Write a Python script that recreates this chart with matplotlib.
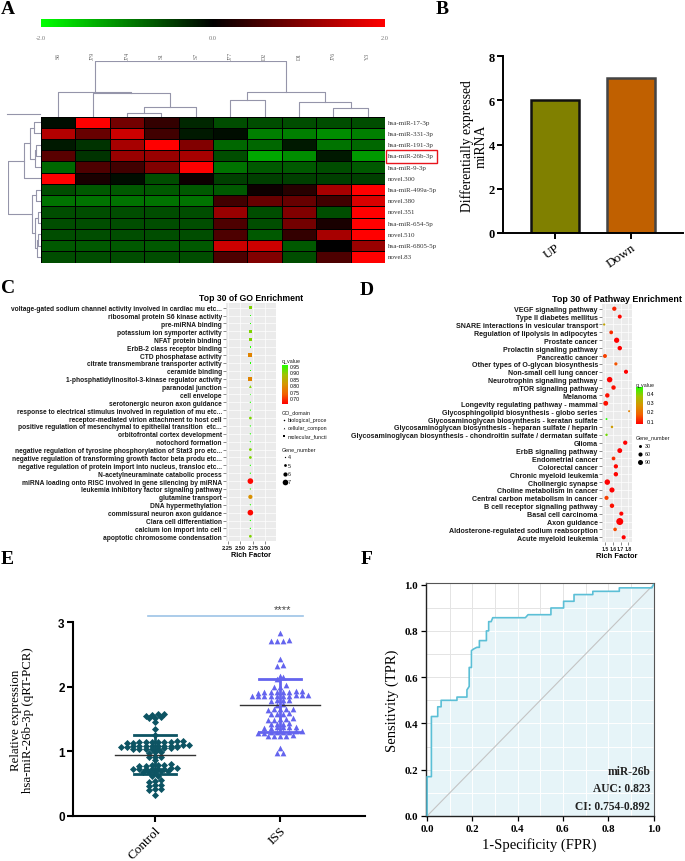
import numpy as np
import matplotlib
matplotlib.use("Agg")
import matplotlib.pyplot as plt
from matplotlib.colors import LinearSegmentedColormap, Normalize
from matplotlib.patches import Rectangle
from matplotlib.lines import Line2D

W, H = 685, 862
SERIF = "Liberation Serif"
SANS = "Liberation Sans"

# ---------------- A: heatmap ----------------
hm_cols = ["S6", "J79", "J74", "S1", "S7", "J77", "D2", "D1", "J76", "Y3"]
hm_rows = ["hsa-miR-17-3p", "hsa-miR-331-3p", "hsa-miR-191-3p", "hsa-miR-26b-3p",
           "hsa-miR-9-3p", "novel.300", "hsa-miR-499a-5p", "novel.380", "novel.351",
           "hsa-miR-654-5p", "novel.510", "hsa-miR-6805-5p", "novel.83"]
hm_vals = np.array([
    [-0.1, 2.0, 0.9, 0.4, -0.3, -0.6, -0.6, -0.6, -0.6, -0.6],
    [1.4, 0.8, 1.6, 0.5, -0.2, -0.1, -1.0, -1.0, -1.1, -1.0],
    [-0.2, -0.4, 1.3, 2.0, 1.0, -0.8, -0.8, -0.2, -0.9, -0.8],
    [0.7, -0.4, 1.2, 1.2, 1.3, -0.6, -1.3, -1.1, -0.2, -1.2],
    [-0.8, 0.6, 0.5, 1.0, 2.0, -0.9, -0.7, -0.7, -0.6, -0.7],
    [2.0, 0.2, -0.1, -0.6, 0.1, -0.5, -0.5, -0.5, -0.5, -0.5],
    [-0.6, -0.7, -0.7, -0.7, -0.7, -0.7, 0.1, 0.3, 1.3, 2.0],
    [-0.9, -0.9, -0.9, -0.9, -0.9, 0.5, 0.8, 0.8, 0.5, 1.7],
    [-0.6, -0.6, -0.6, -0.6, -0.6, 1.2, -0.6, 1.0, -0.6, 2.0],
    [-0.6, -0.6, -0.6, -0.6, -0.6, 0.6, -0.6, 0.9, 0.2, 2.0],
    [-0.6, -0.6, -0.6, -0.6, -0.6, 0.6, -0.7, 0.4, 1.3, 2.0],
    [-0.7, -0.7, -0.7, -0.7, -0.7, 1.6, 1.6, -0.7, 0.0, 1.2],
    [-0.6, -0.6, -0.6, -0.6, -0.6, 0.6, 1.0, -0.6, 0.6, 2.0],
])
# merges: (cluster a, cluster b, height)
col_merges = [(2, 3, 12), (10, 4, 30), (1, 11, 70), (0, 12, 75), (8, 9, 25),
              (7, 14, 43), (5, 6, 50), (16, 15, 73), (13, 17, 168)]
row_merges = [(0, 1, 22), (2, 3, 14), (14, 4, 18), (13, 15, 34), (16, 5, 52),
              (6, 7, 16), (8, 9, 10), (10, 11, 8), (20, 12, 12), (19, 21, 18),
              (18, 22, 26), (17, 23, 100)]

# ---------------- B ----------------
b_cats = ["UP", "Down"]
b_vals = [6, 7]

# ---------------- C: GO ----------------
go_terms = [
    "voltage-gated sodium channel activity involved in cardiac mu etc...",
    "ribosomal protein S6 kinase activity", "pre-miRNA binding",
    "potassium ion symporter activity", "NFAT protein binding",
    "ErbB-2 class receptor binding", "CTD phosphatase activity",
    "citrate transmembrane transporter activity", "ceramide binding",
    "1-phosphatidylinositol-3-kinase regulator activity", "paranodal junction",
    "cell envelope", "serotonergic neuron axon guidance",
    "response to electrical stimulus involved in regulation of mu etc...",
    "receptor-mediated virion attachment to host cell",
    "positive regulation of mesenchymal to epithelial transition  etc...",
    "orbitofrontal cortex development", "notochord formation",
    "negative regulation of tyrosine phosphorylation of Stat3 pro etc...",
    "negative regulation of transforming growth factor beta produ etc...",
    "negative regulation of protein import into nucleus, transloc etc...",
    "N-acetylneuraminate catabolic process",
    "miRNA loading onto RISC involved in gene silencing by miRNA",
    "leukemia inhibitory factor signaling pathway", "glutamine transport",
    "DNA hypermethylation", "commissural neuron axon guidance",
    "Clara cell differentiation", "calcium ion import into cell",
    "apoptotic chromosome condensation"]
go_rich = [2.7] * 30
go_q = [0.90, 0.955, 0.955, 0.90, 0.90, 0.955, 0.78, 0.955, 0.955, 0.78,
        0.90, 0.955, 0.955, 0.955, 0.90, 0.955, 0.955, 0.955, 0.90, 0.90,
        0.955, 0.955, 0.66, 0.955, 0.80, 0.955, 0.66, 0.955, 0.955, 0.90]
go_genes = [5, 4, 4, 5, 5, 4, 6, 4, 4, 6, 5, 4, 4, 4, 5, 4, 4, 4, 5, 5,
            4, 4, 7, 4, 6, 4, 7, 4, 4, 5]
go_domain = ["MF"] * 10 + ["CC"] * 2 + ["BP"] * 18

# ---------------- D: pathways ----------------
kegg_terms = [
    "VEGF signaling pathway", "Type II diabetes mellitus",
    "SNARE interactions in vesicular transport", "Regulation of lipolysis in adipocytes",
    "Prostate cancer", "Prolactin signaling pathway", "Pancreatic cancer",
    "Other types of O-glycan biosynthesis", "Non-small cell lung cancer",
    "Neurotrophin signaling pathway", "mTOR signaling pathway", "Melanoma",
    "Longevity regulating pathway - mammal",
    "Glycosphingolipid biosynthesis - globo series",
    "Glycosaminoglycan biosynthesis - keratan sulfate",
    "Glycosaminoglycan biosynthesis - heparan sulfate / heparin",
    "Glycosaminoglycan biosynthesis - chondroitin sulfate / dermatan sulfate",
    "Glioma", "ErbB signaling pathway", "Endometrial cancer", "Colorectal cancer",
    "Chronic myeloid leukemia", "Cholinergic synapse", "Choline metabolism in cancer",
    "Central carbon metabolism in cancer", "B cell receptor signaling pathway",
    "Basal cell carcinoma", "Axon guidance", "Aldosterone-regulated sodium reabsorption",
    "Acute myeloid leukemia"]
kegg_rich = [1.62, 1.69, 1.49, 1.58, 1.65, 1.69, 1.50, 1.64, 1.77, 1.56,
             1.61, 1.53, 1.51, 1.81, 1.52, 1.59, 1.52, 1.76, 1.69, 1.61,
             1.64, 1.64, 1.53, 1.59, 1.52, 1.59, 1.71, 1.69, 1.63, 1.74]
kegg_q = [0.10, 0.07, 0.30, 0.11, 0.05, 0.05, 0.13, 0.15, 0.05, 0.06,
          0.08, 0.08, 0.08, 0.22, 0.46, 0.28, 0.40, 0.05, 0.05, 0.11,
          0.07, 0.07, 0.05, 0.06, 0.13, 0.08, 0.07, 0.04, 0.14, 0.06]
kegg_genes = [65, 55, 15, 50, 100, 70, 55, 35, 60, 110, 70, 70, 85, 12, 10,
              20, 18, 65, 85, 50, 65, 70, 110, 95, 60, 70, 60, 180, 45, 60]

# ---------------- E ----------------
e_groups = ["Control", "ISS"]
ctrl_vals = [1.57, 1.57, 1.56, 1.55, 1.53, 1.52, 1.51, 1.46, 1.35, 1.25,
             1.16, 1.15, 1.15, 1.14, 1.14, 1.13, 1.15, 1.16, 1.14, 1.13,
             1.09, 1.08, 1.09, 1.08, 1.10, 1.07, 1.09, 1.08, 1.09, 1.07, 1.08,
             1.10, 1.06, 1.05,
             1.04, 1.03, 1.05, 1.04, 1.03, 1.04, 0.99, 0.98, 0.99,
             0.91, 0.92, 0.91, 0.86,
             0.79, 0.78, 0.80, 0.79, 0.78, 0.79,
             0.73, 0.72, 0.74, 0.73, 0.72, 0.73, 0.74, 0.72,
             0.68, 0.69, 0.68, 0.69, 0.68,
             0.62, 0.62, 0.54, 0.55, 0.53, 0.48, 0.47, 0.48,
             0.41, 0.40, 0.41, 0.32]
iss_vals = [2.83, 2.71, 2.72, 2.70, 2.71, 2.43, 2.34, 2.32, 2.17, 2.15, 2.12,
            2.02, 2.00, 1.99,
            1.93, 1.92, 1.91, 1.92, 1.93, 1.91, 1.92, 1.90,
            1.87, 1.86, 1.85, 1.86, 1.87, 1.86, 1.85, 1.86, 1.87, 1.86,
            1.79, 1.80, 1.78, 1.79, 1.72, 1.73,
            1.66, 1.65, 1.64, 1.66, 1.65, 1.58, 1.57, 1.59, 1.58,
            1.50, 1.49, 1.51, 1.50, 1.49, 1.43, 1.44, 1.42, 1.43,
            1.37, 1.36, 1.38, 1.37, 1.36, 1.37,
            1.30, 1.29, 1.31, 1.30, 1.29, 1.30, 1.31, 1.30,
            1.24, 1.23, 1.25, 1.24, 1.23, 1.05, 0.98, 0.97]

# ---------------- F: ROC ----------------
roc_fpr = [0, 0, 0.019, 0.019, 0.047, 0.047, 0.062, 0.062, 0.132, 0.132, 0.176,
           0.176, 0.186, 0.186, 0.196, 0.196, 0.206, 0.22, 0.231, 0.231, 0.262,
           0.262, 0.272, 0.272, 0.283, 0.29, 0.434, 0.446, 0.547, 0.547, 0.603,
           0.603, 0.649, 0.649, 0.732, 0.732, 0.849, 0.849, 0.993, 1.0]
roc_tpr = [0, 0.17, 0.17, 0.43, 0.43, 0.472, 0.472, 0.50, 0.50, 0.514, 0.514,
           0.545, 0.56, 0.642, 0.642, 0.715, 0.722, 0.729, 0.729, 0.758, 0.758,
           0.80, 0.80, 0.84, 0.84, 0.857, 0.857, 0.870, 0.870, 0.899, 0.899,
           0.928, 0.928, 0.957, 0.957, 0.971, 0.971, 0.986, 0.986, 1.0]


fig = plt.figure(figsize=(W / 100, H / 100), dpi=100)


def add_ax(l, t, r, b):
    return fig.add_axes([l / W, 1 - b / H, (r - l) / W, (b - t) / H])


def ftext(x, y, s, **kw):
    return fig.text(x / W, 1 - y / H, s, **kw)


def dendro_segments(merges, n):
    pos = {i: i + 0.5 for i in range(n)}
    hgt = {i: 0.0 for i in range(n)}
    segs = []
    for k, (a, b, h) in enumerate(merges):
        segs.append(([pos[a], pos[a], pos[b], pos[b]], [hgt[a], h, h, hgt[b]]))
        pos[n + k] = (pos[a] + pos[b]) / 2
        hgt[n + k] = h
    return segs


# panel letters
for lab, x, y in [("A", 1, 1), ("B", 436, 1), ("C", 1, 280), ("D", 360, 282),
                  ("E", 1, 551), ("F", 361, 551)]:
    ftext(x, y, lab, family=SERIF, weight="bold", fontsize=14, va="top", ha="left")

# ---------------- A ----------------
hm_cmap = LinearSegmentedColormap.from_list("gbr", ["#00ff00", "#000000", "#ff0000"])
ax = add_ax(41, 117.5, 385, 263.5)
mesh = ax.pcolormesh(hm_vals, cmap=hm_cmap, vmin=-2, vmax=2, edgecolors="black", linewidth=0.6)
ax.set_xlim(0, len(hm_cols))
ax.set_ylim(len(hm_rows), 0)
ax.axis("off")
for i, r in enumerate(hm_rows):
    ftext(388, 117.5 + (i + 0.5) * 146 / 13, r, family=SERIF, fontsize=5.0,
          va="center", ha="left", color="#333333")
for j, c in enumerate(hm_cols):
    ftext(41 + (j + 0.5) * 34.4, 56, c, family=SERIF, fontsize=4.2, rotation=90,
          va="center", ha="center", color="#666666")
fig.add_artist(Rectangle((386 / W, 1 - 163.5 / H), 51 / W, 12.5 / H,
                         transform=fig.transFigure, fill=False, ec="#e8141c", lw=1))

cax = add_ax(41, 20, 385, 28)
cb = fig.colorbar(mesh, cax=cax, orientation="horizontal", ticks=[-2, 0, 2])
cb.outline.set_visible(False)
cb.ax.set_xticklabels(["-2.0", "0.0", "2.0"])
cb.ax.tick_params(length=0, labelsize=4.6, pad=6, labelcolor="#777777")
for t in cb.ax.get_xticklabels():
    t.set_family(SERIF)

dcol = "#9595aa"
axd = add_ax(41, 61.5, 385, 117.5)
for xs, ys in dendro_segments(col_merges, len(hm_cols)):
    axd.plot(xs, ys, color=dcol, lw=0.8)
axd.set_xlim(0, len(hm_cols))
axd.set_ylim(0, 168)
axd.axis("off")

axr = add_ax(7.5, 117.5, 41, 263.5)
for ys, xs in dendro_segments(row_merges, len(hm_rows)):
    axr.plot(xs, ys, color=dcol, lw=0.8)
axr.set_xlim(100, 0)
axr.set_ylim(len(hm_rows), 0)
axr.axis("off")
fig.add_artist(Line2D([7 / W, 40 / W], [1 - 114.5 / H] * 2, transform=fig.transFigure,
                      color=dcol, lw=0.8))

# ---------------- B ----------------
ax = add_ax(503, 57, 683, 234)
bars = ax.bar(range(len(b_cats)), b_vals, width=0.63, color=["#808000", "#c06000"],
              edgecolor=["#111111", "#444444"], linewidth=1.8)
ax.set_xlim(-0.684, 1.684)
ax.set_ylim(0, 8)
ax.set_yticks([0, 2, 4, 6, 8])
ax.set_xticks(range(len(b_cats)))
ax.set_xticklabels(b_cats, rotation=35, ha="right", rotation_mode="anchor",
                   family=SERIF, fontsize=9.5)
for t in ax.get_yticklabels():
    t.set_family(SERIF)
    t.set_weight("bold")
    t.set_fontsize(9)
for s in ["top", "right"]:
    ax.spines[s].set_visible(False)
for s in ["left", "bottom"]:
    ax.spines[s].set_linewidth(1.4)
ax.tick_params(direction="out", length=4, width=1.4, pad=2)
ftext(474, 146, "Differentially expressed\nmiRNA", family=SERIF, fontsize=9.8,
      rotation=90, ha="center", va="center", linespacing=1.05)

# ---------------- C / D shared ----------------
qcmap = LinearSegmentedColormap.from_list(
    "rg", ["#ff0000", "#f26100", "#d79400", "#a2c200", "#22ff00"])


def gg_panel(ax, fs, xfs):
    ax.set_facecolor("#ebebeb")
    for s in ax.spines.values():
        s.set_visible(False)
    ax.grid(True, color="white", lw=0.5)
    ax.set_axisbelow(True)
    ax.tick_params(length=2, width=0.4, color="#333333", pad=1, labelcolor="#1a1a1a")
    ax.tick_params(axis="y", labelsize=fs)
    ax.tick_params(axis="x", labelsize=xfs)
    for t in ax.get_yticklabels() + ax.get_xticklabels():
        t.set_family(SANS)
        t.set_weight("bold")


# ---------------- C ----------------
go_norm = Normalize(0.655, 0.955)
ax = add_ax(226, 304, 276, 542)
ypos = np.arange(len(go_terms), 0, -1)
go_s = [(0.72 * (1.3 + (g - 4) * 1.45)) ** 2 for g in go_genes]
marker_of = {"BP": "o", "CC": "^", "MF": "s"}
for dom in ["BP", "CC", "MF"]:
    idx = [i for i, d in enumerate(go_domain) if d == dom]
    sc = ax.scatter([go_rich[i] for i in idx], ypos[idx], s=[go_s[i] for i in idx],
                    c=[go_q[i] for i in idx], cmap=qcmap, norm=go_norm,
                    marker=marker_of[dom], linewidths=0, zorder=3)
ax.set_ylim(0.4, len(go_terms) + 0.6)
ax.set_xlim(2.215, 3.21)
ax.set_yticks(ypos)
ax.set_yticklabels(go_terms)
ax.set_xticks([2.25, 2.5, 2.75, 3.0])
ax.set_xticklabels(["2.25", "2.50", "2.75", "3.00"])
gg_panel(ax, 4.75, 4.1)
ax.set_xlabel("Rich Factor", family=SANS, weight="bold", fontsize=5.2, labelpad=0.5)
ax.set_title("Top 30 of GO Enrichment", family=SANS, weight="bold", fontsize=6.2, pad=2.5)

lg = dict(family=SANS, fontsize=3.9, color="#1a1a1a", va="center", ha="left")
ftext(282, 361.5, "q_value", **lg)
cax = add_ax(282, 366, 288, 405)
cb = fig.colorbar(plt.cm.ScalarMappable(norm=go_norm, cmap=qcmap), cax=cax,
                  ticks=[0.70, 0.75, 0.80, 0.85, 0.90, 0.95])
cb.outline.set_visible(False)
cb.ax.set_yticklabels(["0.70", "0.75", "0.80", "0.85", "0.90", "0.95"])
cb.ax.tick_params(length=0, labelsize=3.7, pad=1.5)
for t in cb.ax.get_yticklabels():
    t.set_family(SANS)
ftext(282, 413, "GO_domain", **lg)
axl = add_ax(280, 416, 345, 488)
axl.set_xlim(280, 345)
axl.set_ylim(488, 416)
axl.axis("off")
for k, (lab, m) in enumerate([("biological_proce", "o"), ("cellular_compon", "^"),
                               ("molecular_functi", "s")]):
    axl.scatter([284], [420.5 + k * 8], s=1.2, marker=m, color="black", linewidths=0)
    axl.text(288, 420.5 + k * 8, lab, **lg)
ftext(282, 450, "Gene_number", **lg)
for k, g in enumerate([4, 5, 6, 7]):
    axl.scatter([284.5], [458 + k * 8.3], s=(0.72 * (1.3 + (g - 4) * 1.45)) ** 2,
                color="black", linewidths=0)
    axl.text(288, 458 + k * 8.3, str(g), **lg)

# ---------------- D ----------------
kg_norm = Normalize(0.064, 0.462)
ax = add_ax(602, 305, 632, 543)
ypos = np.arange(len(kegg_terms), 0, -1)
kg_s = [0.518 * (9 + (g - 30) * 0.267) for g in kegg_genes]
ax.scatter(kegg_rich, ypos, s=kg_s, c=kegg_q, cmap=qcmap, norm=kg_norm,
           linewidths=0, zorder=3)
ax.set_ylim(0.4, len(kegg_terms) + 0.6)
ax.set_xlim(1.462, 1.847)
ax.set_yticks(ypos)
ax.set_yticklabels(kegg_terms)
ax.set_xticks([1.5, 1.6, 1.7, 1.8])
ax.set_xticklabels(["1.5", "1.6", "1.7", "1.8"])
gg_panel(ax, 5.1, 3.7)
ax.set_xlabel("Rich Factor", family=SANS, weight="bold", fontsize=5.4, labelpad=0.5)
ax.set_title("Top 30 of Pathway Enrichment", family=SANS, weight="bold", fontsize=6.4,
             pad=2.5)

ftext(636, 385, "q_value", **lg)
cax = add_ax(636, 388, 643, 425)
cb = fig.colorbar(plt.cm.ScalarMappable(norm=kg_norm, cmap=qcmap), cax=cax,
                  ticks=[0.1, 0.2, 0.3, 0.4])
cb.outline.set_visible(False)
cb.ax.tick_params(length=0, labelsize=3.9, pad=2.5)
for t in cb.ax.get_yticklabels():
    t.set_family(SANS)
ftext(636, 438, "Gene_number", **lg)
axl = add_ax(634, 440, 684, 470)
axl.set_xlim(634, 684)
axl.set_ylim(470, 440)
axl.axis("off")
for k, g in enumerate([30, 60, 90]):
    axl.scatter([640], [447 + k * 8], s=0.518 * (9 + (g - 30) * 0.267), color="black",
                linewidths=0)
    axl.text(645, 447 + k * 8, str(g), **lg)

# ---------------- E ----------------


def swarm_x(vals, center, step=0.05, tol=0.035):
    vals = np.asarray(vals, dtype=float)
    order = np.argsort(vals)
    xs = np.zeros(len(vals))
    group = [order[0]]
    for i in order[1:]:
        if vals[i] - vals[group[0]] < tol:
            group.append(i)
        else:
            k = len(group)
            xs[group] = center + (np.arange(k) - (k - 1) / 2) * step
            group = [i]
    k = len(group)
    xs[group] = center + (np.arange(k) - (k - 1) / 2) * step
    return xs


ax = add_ax(73, 623, 365, 817)
e_cols = ["#0d5463", "#6464ee"]
for gi, (vals, m, ms) in enumerate([(ctrl_vals, "D", 13), (iss_vals, "^", 17)]):
    vals = np.array(vals)
    ax.scatter(swarm_x(vals, gi), vals, marker=m, s=ms, color=e_cols[gi],
               linewidths=0, zorder=3)
    mu, sd = vals.mean(), vals.std(ddof=1)
    ax.plot([gi - 0.32, gi + 0.32], [mu, mu], color="#333333", lw=1.0, zorder=4)
    ax.plot([gi, gi], [mu - sd, mu + sd], color=e_cols[gi], lw=2, zorder=4)
    for yy in (mu - sd, mu + sd):
        ax.plot([gi - 0.165, gi + 0.165], [yy, yy], color=e_cols[gi], lw=2, zorder=4)
ax.plot([-0.056, 1.18], [3.09, 3.09], color="#9dc3e6", lw=1.2, clip_on=False)
ax.text(1.02, 3.12, "****", ha="center", va="bottom", fontsize=8, color="#444444",
        family=SANS, clip_on=False)
ax.set_xlim(-0.656, 1.68)
ax.set_ylim(0, 3)
ax.set_yticks([0, 1, 2, 3])
ax.set_xticks([0, 1])
ax.set_xticklabels(e_groups, rotation=45, ha="right", rotation_mode="anchor",
                   family=SERIF, fontsize=9.5)
for t in ax.get_yticklabels():
    t.set_family(SANS)
    t.set_weight("bold")
    t.set_fontsize(8.5)
for s in ["top", "right"]:
    ax.spines[s].set_visible(False)
for s in ["left", "bottom"]:
    ax.spines[s].set_linewidth(1.5)
ax.tick_params(direction="out", length=4, width=1.5, pad=2)
ftext(22, 720, "Relative expression\nhsa-miR-26b-3p (qRT-PCR)", family=SERIF,
      fontsize=9.3, rotation=90, ha="center", va="center", linespacing=1.1)

# ---------------- F ----------------
ax = add_ax(425.5, 584, 653.5, 817)
ax.set_xlim(-0.007, 1.0)
ax.set_ylim(0, 1.007)
grid_pos = np.arange(0.1, 1.0, 0.1)
ax.vlines(grid_pos, 0, 1.007, color="#e4e4e4", lw=0.7, zorder=0)
ax.hlines(grid_pos, -0.007, 1.0, color="#e4e4e4", lw=0.7, zorder=0)
poly = ax.fill_between(roc_fpr, 0, roc_tpr, color="#e6f4f8", lw=0, zorder=1)
clip = poly.get_paths()[0]
v = ax.vlines(grid_pos, 0, 1.007, color="white", lw=0.7, zorder=1.5)
hl = ax.hlines(grid_pos, -0.007, 1.0, color="white", lw=0.7, zorder=1.5)
v.set_clip_path(clip, ax.transData)
hl.set_clip_path(clip, ax.transData)
ax.plot([0, 1], [0, 1], color="#c4c4c4", lw=0.8, zorder=2)
ax.plot(roc_fpr, roc_tpr, color="#5bbfd6", lw=1.2, zorder=3)
ax.set_xticks(np.arange(0, 1.01, 0.2))
ax.set_yticks(np.arange(0, 1.01, 0.2))
ax.set_xticklabels(["%.1f" % t for t in np.arange(0, 1.01, 0.2)])
ax.set_yticklabels(["%.1f" % t for t in np.arange(0, 1.01, 0.2)])
for t in ax.get_xticklabels() + ax.get_yticklabels():
    t.set_family(SERIF)
    t.set_weight("bold")
    t.set_fontsize(7.8)
ax.tick_params(direction="out", length=3.5, width=0.9, pad=2)
for s in ["left", "bottom"]:
    ax.spines[s].set_linewidth(1.0)
    ax.spines[s].set_color("#222222")
for s in ["top", "right"]:
    ax.spines[s].set_linewidth(0.8)
    ax.spines[s].set_color("#555555")
ax.set_xlabel("1-Specificity (FPR)", family=SERIF, fontsize=10.5, labelpad=3)
ax.set_ylabel("Sensitivity (TPR)", family=SERIF, fontsize=10.5, labelpad=4)
for k, s in enumerate(["miR-26b", "AUC: 0.823", "CI: 0.754-0.892"]):
    ax.text(0.985, 0.195 - k * 0.075, s, ha="right", va="center", family=SERIF,
            weight="bold", fontsize=8.3, color="#222222")

fig.savefig("out.png", dpi=100)
